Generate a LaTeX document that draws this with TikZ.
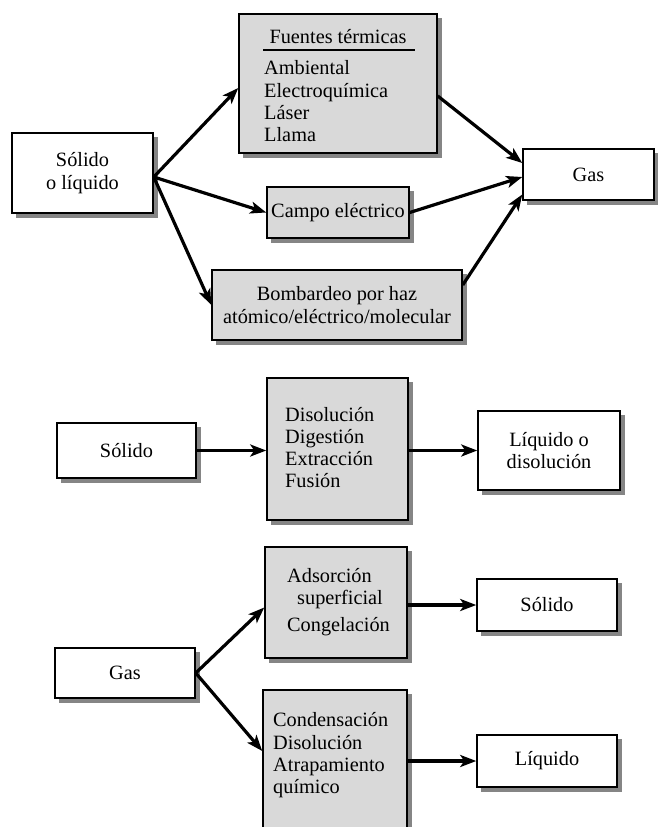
\documentclass[tikz,border=0pt]{standalone}
\usepackage{fontspec}
\setmainfont{Liberation Serif}
\usetikzlibrary{arrows.meta,backgrounds,calc}
\begin{document}
\begin{tikzpicture}[x=1pt,y=-1pt,
  every node/.style={font=\fontsize{20.3}{22.3}\selectfont},
  plainbox/.style={draw=black, line width=1.5pt, fill=white, inner sep=0pt, align=center},
  greybox/.style={plainbox, fill=gray!30},
  itemtxt/.style={inner sep=0pt, align=left},
  flow/.style={line width=3.2pt, -{Stealth[length=16pt,width=12pt,inset=4pt]}},
  boxshadow/.style={fill=black!48}
]
\useasboundingbox (0,0) rectangle (658,827);

% ---------- solid or liquid to gas ----------
\node[plainbox, minimum width=141pt, minimum height=80pt] (sl) at (82.5,173) {Sólido\\o líquido};
\node[greybox, minimum width=198pt, minimum height=139pt] (fuentes) at (338,83.5) {};
\node[itemtxt] (fhdr) at (338,37) {Fuentes térmicas};
\draw[line width=1.4pt] (263,50) -- (415,50);
\node[itemtxt, anchor=west] (fitems) at (264,101.5) {Ambiental\\Electroquímica\\Láser\\Llama};
\node[greybox, minimum width=142pt, minimum height=51pt] (campo) at (338,212.5) {Campo eléctrico};
\node[greybox, minimum width=250pt, minimum height=70pt] (bomb) at (337,305) {Bombardeo por haz\\atómico/eléctrico/molecular};
\node[plainbox, minimum width=131pt, minimum height=51pt] (gas1) at (588.5,174.5) {Gas};

\draw[flow] ($(sl.east)+(0,4)$) -- ($(fuentes.west)+(0,4.5)$);
\draw[flow] ($(sl.east)+(0,4)$) -- (campo.west);
\draw[flow] ($(sl.east)+(0,4)$) -- (bomb.west);
\draw[flow] ($(fuentes.east)+(0,12.5)$) -- ($(gas1.west)+(0,-11.5)$);
\draw[flow] (campo.east) -- ($(gas1.west)+(0,2.5)$);
\draw[flow] ($(bomb.east)+(0,-20)$) -- ($(gas1.west)+(0,20)$);

% ---------- solid to liquid or solution ----------
\node[plainbox, minimum width=139pt, minimum height=55pt] (solido2) at (126.5,450.5) {Sólido};
\node[greybox, minimum width=141pt, minimum height=142pt] (proc) at (337.5,449) {};
\node[itemtxt, anchor=west] (proctxt) at (285,447.5) {Disolución\\Digestión\\Extracción\\Fusión};
\node[plainbox, minimum width=142pt, minimum height=79pt] (liq1) at (549,450.5) {Líquido o\\disolución};

\draw[flow] (solido2.east) -- (solido2.east -| proc.west);
\draw[flow] (proc.east |- liq1.west) -- (liq1.west);

% ---------- gas to solid or liquid ----------
\node[plainbox, minimum width=140pt, minimum height=50pt] (gas2) at (125,673) {Gas};
\node[greybox, minimum width=142pt, minimum height=111pt] (ads) at (336,602.5) {};
\node[itemtxt, anchor=west] (adstxt) at (287,602) {Adsorción\\\hspace*{10pt}superficial\\[4pt]Congelación};
\node[greybox, minimum width=144pt, minimum height=150pt] (cond) at (335,765) {};
\node[itemtxt, anchor=west] (condtxt) at (273,755.5) {Condensación\\Disolución\\Atrapamiento\\químico};
\node[plainbox, minimum width=140pt, minimum height=52pt] (sol3) at (547,605) {Sólido};
\node[plainbox, minimum width=140pt, minimum height=52pt] (liq2) at (547,761) {Líquido};

\draw[flow] (gas2.east) -- ($(ads.west)+(0,5)$);
\draw[flow] (gas2.east) -- ($(cond.west)+(0,-14)$);
\draw[flow] (ads.east |- sol3.west) -- (sol3.west);
\draw[flow] (cond.east |- liq2.west) -- (liq2.west);

% offset shadows behind every box
\begin{scope}[on background layer]
  \foreach \n in {sl,fuentes,campo,bomb,gas1,solido2,proc,liq1,gas2,ads,cond,sol3,liq2}
    \fill[boxshadow] ($(\n.south west)+(4.5,4.5)$) rectangle ($(\n.north east)+(4.5,4.5)$);
\end{scope}
\end{tikzpicture}
\end{document}
